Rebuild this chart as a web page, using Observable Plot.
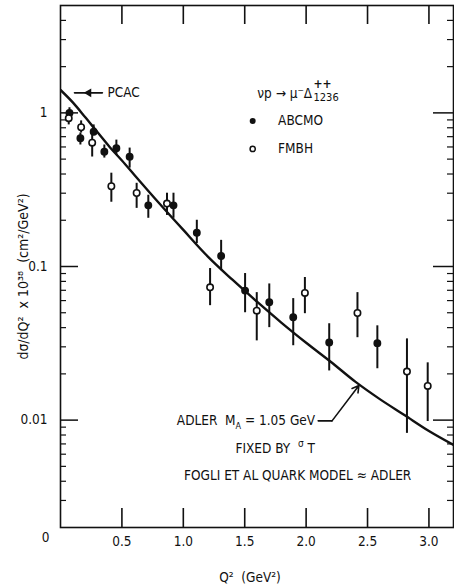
<!DOCTYPE html>
<html><head><meta charset="utf-8">
<script src="https://cdn.jsdelivr.net/npm/d3@7"></script>
<script src="https://cdn.jsdelivr.net/npm/@observablehq/plot@0.6"></script>
<style>body{margin:0;background:#fff}</style>
</head><body><div id="chart"></div>
<script>
const FONT = '"Liberation Sans Narrow","DejaVu Sans Condensed","DejaVu Sans",sans-serif';

// ABCMO (filled circles)
const abcmoQ2  = [0.073,0.162,0.27,0.357,0.455,0.563,0.715,0.92,1.11,1.308,1.503,1.70,1.895,2.188,2.58];
const abcmoVal = [1.00,0.684,0.755,0.559,0.588,0.518,0.25,0.25,0.166,0.117,0.0697,0.0585,0.0467,0.032,0.0317];
const abcmoLo  = [0.94,0.618,0.707,0.508,0.531,0.437,0.206,0.206,0.141,0.094,0.050,0.040,0.0305,0.0209,0.0216];
const abcmoHi  = [1.08,0.74,0.835,0.618,0.665,0.59,0.291,0.30,0.20,0.148,0.090,0.077,0.0618,0.0424,0.0411];

// FMBH (open circles)
const fmbhQ2  = [0.067,0.168,0.258,0.414,0.62,0.867,1.218,1.598,1.99,2.418,2.821,2.99];
const fmbhVal = [0.923,0.806,0.64,0.333,0.301,0.257,0.0732,0.0516,0.0673,0.0498,0.0207,0.0167];
const fmbhLo  = [0.835,0.74,0.516,0.262,0.239,0.215,0.0556,0.0328,0.0493,0.0344,0.0082,0.0098];
const fmbhHi  = [1.0,0.887,0.718,0.405,0.348,0.30,0.097,0.0676,0.0848,0.0676,0.0338,0.0236];

// Adler model curve (M_A = 1.05 GeV)
const adlerQ2  = [0,0.1,0.2,0.3,0.4,0.5,0.6,0.8,1.0,1.2,1.4,1.6,1.8,2.0,2.2,2.4,2.6,2.8,3.0,3.2];
const adlerVal = [1.41,1.17,0.94,0.75,0.60,0.49,0.396,0.26,0.173,0.116,0.082,0.059,0.043,0.0319,0.024,0.0178,0.0137,0.0108,0.0085,0.0069];

// axes
const xDomain = [0, 3.2];
const yDomain = [0.002, 5];
const xTicks = [0.5,1.0,1.5,2.0,2.5,3.0];
const xTickLabels = ["0.5","1.0","1.5","2.0","2.5","3.0"];
const yMajor = [0.01,0.1,1];
const yMajorLabels = ["0.01","0.1","1"];
const yMinor = [0.003,0.004,0.005,0.006,0.007,0.008,0.009,0.02,0.03,0.04,0.05,0.06,0.07,0.08,0.09,0.2,0.3,0.4,0.5,0.6,0.7,0.8,0.9,2,3,4];

const xLabel = "Q²  (GeV²)";
const yLabel = "dσ/dQ²  x 10³⁸  (cm²/GeV²)";
const originLabel = "0";

// legend / annotations (data coordinates)
const legendTitle = "νp → μ⁻Δ";
const legendSup = "++";
const legendSub = "1236";
const legendNames = ["ABCMO","FMBH"];
const pcacText = "PCAC";
const adlerText = "ADLER  M_A = 1.05 GeV";
const fixedText = "FIXED BY σT";
const fogliText = "FOGLI ET AL QUARK MODEL ≈ ADLER";

const W = 454, H = 587, ML = 60, MR = 1, MT = 5, MB = 60;
const pxX = (xDomain[1]-xDomain[0])/(W-ML-MR);
const pxDec = Math.log10(yDomain[1]/yDomain[0])/(H-MT-MB);
const lenX = px => px*pxX;
const facY = px => Math.pow(10, px*pxDec);

const abcmo = abcmoQ2.map((q,i)=>({q, v:abcmoVal[i], lo:abcmoLo[i], hi:abcmoHi[i]}));
const fmbh = fmbhQ2.map((q,i)=>({q, v:fmbhVal[i], lo:fmbhLo[i], hi:fmbhHi[i]}));
const adler = adlerQ2.map((q,i)=>({q, v:adlerVal[i]}));

const ink = "#111";
const fs = 13.5;

const chart = Plot.plot({
  width: W, height: H,
  marginLeft: ML, marginRight: MR, marginTop: MT, marginBottom: MB,
  style: {fontFamily: FONT, fontSize: fs+"px", color: ink, background: "#fff"},
  x: {domain: xDomain},
  y: {type: "log", domain: yDomain},
  marks: [
    Plot.frame({stroke: ink, strokeWidth: 1.6}),
    // inward ticks
    Plot.ruleY(yMajor, {y: d=>d, x1: 0, x2: lenX(18), stroke: ink, strokeWidth: 1.5}),
    Plot.ruleY(yMajor, {y: d=>d, x1: xDomain[1]-lenX(20), x2: xDomain[1], stroke: ink, strokeWidth: 1.5}),
    Plot.ruleY(yMinor, {y: d=>d, x1: 0, x2: lenX(6), stroke: ink, strokeWidth: 1.2}),
    Plot.ruleY(yMinor, {y: d=>d, x1: xDomain[1]-lenX(6), x2: xDomain[1], stroke: ink, strokeWidth: 1.2}),
    Plot.ruleX(xTicks, {x: d=>d, y1: yDomain[0], y2: yDomain[0]*facY(19), stroke: ink, strokeWidth: 1.6}),
    Plot.ruleX(xTicks, {x: d=>d, y1: yDomain[1], y2: yDomain[1]/facY(19), stroke: ink, strokeWidth: 1.6}),
    // tick labels
    Plot.axisX(xTicks, {tickSize: 0, tickPadding: 9, tickFormat: d => xTickLabels[xTicks.indexOf(d)], label: null, fontSize: fs}),
    Plot.axisY(yMajor, {tickSize: 0, tickPadding: 13, tickFormat: d => yMajorLabels[yMajor.indexOf(d)], label: null, fontSize: fs}),
    Plot.text([originLabel], {text: d=>d, frameAnchor: "bottom-left", textAnchor: "middle", lineAnchor: "middle", dx: -15, dy: 10, fontSize: fs}),
    Plot.text([xLabel], {text: d=>d, frameAnchor: "bottom", textAnchor: "middle", lineAnchor: "middle", dx: -7, dy: 50, fontSize: fs}),
    Plot.text([yLabel], {text: d=>d, frameAnchor: "left", textAnchor: "middle", lineAnchor: "middle", rotate: -90, dx: -37, dy: 10, fontSize: 14}),
    // model curve
    Plot.line(adler, {x: "q", y: "v", stroke: ink, strokeWidth: 2.4, curve: "monotone-x", clip: true}),
    // error bars
    Plot.ruleX(abcmo, {x: "q", y1: "lo", y2: "hi", stroke: ink, strokeWidth: 2}),
    Plot.ruleX(fmbh, {x: "q", y1: "lo", y2: "hi", stroke: ink, strokeWidth: 2}),
    Plot.dot(abcmo, {x: "q", y: "v", r: 3.2, fill: ink, stroke: ink}),
    Plot.dot(fmbh, {x: "q", y: "v", r: 3.2, fill: "#fff", stroke: ink, strokeWidth: 1.6}),
    // legend
    Plot.text([legendTitle], {text: d=>d, x: 2.049, y: 1.33, textAnchor: "end", fontSize: fs}),
    Plot.text([legendSup], {text: d=>d, x: 2.06, y: 1.53, textAnchor: "start", fontSize: 12, fontWeight: "bold"}),
    Plot.text([legendSub], {text: d=>d, x: 2.06, y: 1.26, textAnchor: "start", fontSize: 11}),
    Plot.dot([legendNames[0]], {x: 1.565, y: 0.887, r: 3, fill: ink}),
    Plot.dot([legendNames[1]], {x: 1.565, y: 0.583, r: 2.6, fill: "#fff", stroke: ink, strokeWidth: 1.5}),
    Plot.text([legendNames[0]], {text: d=>d, x: 1.772, y: 0.887, textAnchor: "start", fontSize: fs}),
    Plot.text([legendNames[1]], {text: d=>d, x: 1.772, y: 0.583, textAnchor: "start", fontSize: fs}),
    // PCAC annotation
    Plot.line([{q:0.341,v:1.35},{q:0.114,v:1.35}], {x: "q", y: "v", stroke: ink, strokeWidth: 1.6}),
    Plot.dot([{q:0.23,v:1.35}], {x: "q", y: "v", symbol: "triangle", rotate: -90, r: 3.2, fill: ink}),
    Plot.text([pcacText], {text: d=>d, x: 0.382, y: 1.35, textAnchor: "start", fontSize: fs}),
    // Adler annotation
    Plot.text([adlerText], {text: d=>d, x: 2.073, y: 0.00989, textAnchor: "end", fontSize: fs}),
    Plot.line([{q:2.098,v:0.00989},{q:2.211,v:0.00989}], {x: "q", y: "v", stroke: ink, strokeWidth: 1.6}),
    Plot.arrow([{x1:2.211,y1:0.00989,x2:2.43,y2:0.0168}], {x1:"x1", y1:"y1", x2:"x2", y2:"y2", stroke: ink, strokeWidth: 1.6, headLength: 7}),
    Plot.text([fixedText], {text: d=>d, x: 1.748, y: 0.0065, textAnchor: "middle", fontSize: fs}),
    Plot.text([fogliText], {text: d=>d, x: 1.931, y: 0.00433, textAnchor: "middle", fontSize: fs})
  ]
});

// rich text: subscripts / superscripts
d3.select(chart).selectAll("text").each(function() {
  const t = this.textContent;
  if (t === adlerText) {
    this.textContent = "";
    const s = d3.select(this);
    s.append("tspan").text("ADLER  M");
    s.append("tspan").attr("dy", 4).attr("font-size", 9).text("A");
    s.append("tspan").attr("dy", -4).text(" = 1.05 GeV");
  } else if (t === fixedText) {
    this.textContent = "";
    const s = d3.select(this);
    s.append("tspan").text("FIXED BY  ");
    s.append("tspan").attr("dy", -6).attr("font-size", 10).text("σ");
    s.append("tspan").attr("dy", 6).text(" T");
  }
});

document.getElementById("chart").appendChild(chart);
</script>
</body></html>
